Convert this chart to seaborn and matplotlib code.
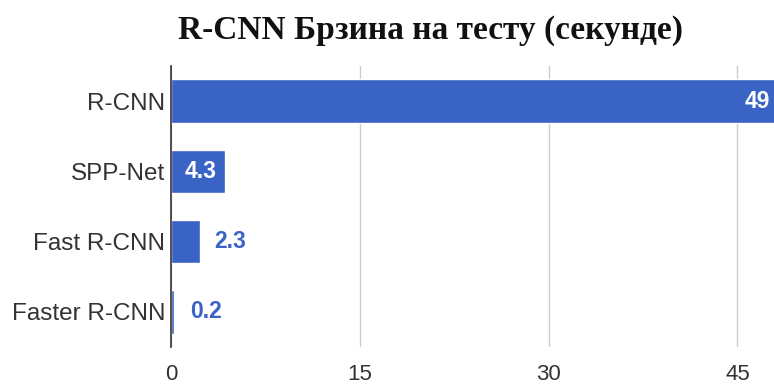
import matplotlib
matplotlib.use("Agg")
import matplotlib.pyplot as plt
import seaborn as sns
import pandas as pd

models = ["R-CNN", "SPP-Net", "Fast R-CNN", "Faster R-CNN"]
seconds = [49, 4.3, 2.3, 0.2]
value_labels = ["49", "4.3", "2.3", "0.2"]
xticks = [0, 15, 30, 45]

df = pd.DataFrame({"model": models, "sec": seconds})

sns.set_theme(style="white")
plt.rcParams["font.family"] = ["Liberation Sans", "DejaVu Sans"]

BLUE = "#3a63c6"
fig = plt.figure(figsize=(7.74, 3.85), dpi=100)
ax = fig.add_axes([171/774, 1-347/385, 1-171/774, 281/385])

sns.barplot(data=df, x="sec", y="model", color=BLUE, saturation=1, width=0.62, ax=ax)
ax.set_xlim(0, 47.9)
ax.set_xticks(xticks)
ax.set_xticklabels([str(t) for t in xticks], fontsize=16, color="#333333")
ax.tick_params(axis="y", labelsize=17.5, colors="#333333", length=0, pad=4)
ax.tick_params(axis="x", length=0, pad=12.5)
ax.set_xlabel("")
ax.set_ylabel("")
ax.xaxis.grid(True, color="#cccccc", linewidth=1)
ax.set_axisbelow(True)
for s in ["top", "right", "bottom"]:
    ax.spines[s].set_visible(False)
ax.spines["left"].set_color("#333333")
ax.spines["left"].set_linewidth(1.2)
ax.spines["left"].set_zorder(5)

xmax = ax.get_xlim()[1]
for i, (v, lab) in enumerate(zip(seconds, value_labels)):
    if v >= xmax:
        ax.annotate(lab, xy=(1.0, i), xycoords=("axes fraction", "data"),
                    xytext=(-3, 0), textcoords="offset points",
                    ha="right", va="center", color="white",
                    fontsize=16.5, fontweight="bold")
    elif v > 3:
        ax.annotate(lab, xy=(v, i), xytext=(-6, 0), textcoords="offset points",
                    ha="right", va="center", color="white",
                    fontsize=16.5, fontweight="bold")
    else:
        ax.annotate(lab, xy=(v, i), xytext=(10.5 if v > 1 else 12, 0), textcoords="offset points",
                    ha="left", va="center", color=BLUE,
                    fontsize=16.5, fontweight="bold")

fig.text(431/774, 1-30/385, "R-CNN Брзина на тесту (секунде)",
         ha="center", va="center", fontsize=24, fontweight="bold",
         family=["Liberation Serif", "DejaVu Serif"], color="#111111")

fig.savefig("out.png", dpi=100)
